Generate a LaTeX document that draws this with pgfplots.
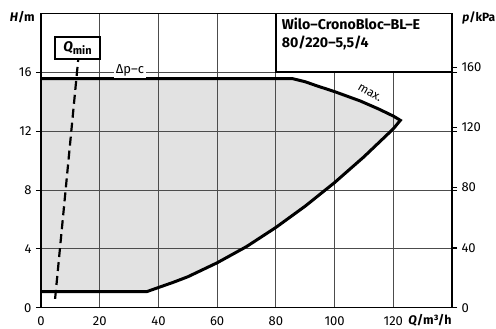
\documentclass[border=0pt]{standalone}
\usepackage{fontspec}
\setmainfont{Fira Sans}
\usepackage{pgfplots}
\pgfplotsset{compat=1.18}
\definecolor{fillgray}{HTML}{E2E2E2}
\pgfplotsset{
  base/.style={
    scale only axis, width=411pt, height=294.4pt,
    xmin=0, xmax=140, ymin=0, ymax=20,
    xtick={0,20,...,120}, ytick={0,4,...,16},
    /pgf/number format/assume math mode=true,
  }
}
\tikzset{gridline/.style={black!70, line width=0.8pt}}
\begin{document}
\begin{tikzpicture}[x=1pt,y=1pt]
% layer 1: shaded operating range and grid
\begin{axis}[base, hide axis]
\addplot[fill=fillgray, draw=none] coordinates {
  (0,15.57) (85.5,15.57) (90,15.35) (94,15.07) (100,14.68) (108.8,14.04)
  (115,13.5) (120,13.02) (122.4,12.73)
  (120,12.15) (110,10.25) (100,8.5) (90,6.9) (80,5.45) (70,4.15) (60,3.05)
  (50,2.1) (45,1.72) (36,1.09) (0,1.09) (0,15.57)
};
\draw[gridline] (axis cs:20,0) -- (axis cs:20,20);
\draw[gridline] (axis cs:40,0) -- (axis cs:40,20);
\draw[gridline] (axis cs:60,0) -- (axis cs:60,20);
\draw[gridline] (axis cs:80,0) -- (axis cs:80,20);
\draw[gridline] (axis cs:100,0) -- (axis cs:100,20);
\draw[gridline] (axis cs:120,0) -- (axis cs:120,20);
\draw[gridline] (axis cs:0,4) -- (axis cs:140,4);
\draw[gridline] (axis cs:0,8) -- (axis cs:140,8);
\draw[gridline] (axis cs:0,12) -- (axis cs:140,12);
\draw[gridline] (axis cs:0,16) -- (axis cs:140,16);
\end{axis}
% layer 2: curves, frame, ticks, labels
\begin{axis}[base,
  axis line style={line width=1.5pt},
  tick align=outside,
  major tick length=5pt,
  xtick style={draw=none},
  ytick style={black, line width=0.8pt},
  ticklabel style={font=\fontsize{13}{15}\selectfont},
  yticklabel style={xshift=-1pt},
  clip=false,
]
% characteristic curve
\addplot[black, line width=3pt, line join=miter] coordinates {
  (0,15.57) (85.5,15.57) (90,15.35) (94,15.07) (100,14.68) (108.8,14.04)
  (115,13.5) (120,13.02) (122.4,12.73)
  (120,12.15) (110,10.25) (100,8.5) (90,6.9) (80,5.45) (70,4.15) (60,3.05)
  (50,2.1) (45,1.72) (36,1.09) (0,1.09)
};
% Qmin line
\addplot[black, line width=2.2pt, dash pattern=on 9pt off 5pt] coordinates {
  (4.8,0.6) (12.7,16.9)
};
% title box
\draw[line width=1.5pt, fill=white] (axis cs:80,16) rectangle (axis cs:140,20);
\node[anchor=base west, inner sep=0, font=\bfseries\fontsize{14.2}{17}\selectfont]
  at (axis cs:82,18.93) {Wilo–CronoBloc–BL–E};
\node[anchor=base west, inner sep=0, font=\bfseries\fontsize{14.2}{17}\selectfont]
  at (axis cs:82,17.7) {80/220–5,5/4};
% Qmin box
\node[draw, line width=1.5pt, fill=white, minimum width=45pt, minimum height=22pt, inner sep=0]
  at (axis cs:12.45,17.64) {\bfseries\fontsize{14}{16}\selectfont\itshape Q\raisebox{-3pt}{\upshape\fontsize{11}{11}\selectfont min}};
% delta p-c label
\node[fill=white, inner sep=2pt, font=\fontsize{13}{15}\selectfont] at (axis cs:30.3,16.13) {Δp–c};
% max label
\node[rotate=-30, inner sep=0, font=\fontsize{12}{14}\selectfont] at (axis cs:112,14.6) {max.};
\end{axis}
% right axis (kPa)
\begin{axis}[
  scale only axis, width=411pt, height=294.4pt,
  xmin=0, xmax=140, ymin=0, ymax=196.2,
  hide x axis,
  axis y line*=right,
  ytick={0,40,...,160},
  axis line style={line width=1.5pt},
  tick align=outside,
  major tick length=5pt,
  ytick style={black, line width=0.8pt},
  ticklabel style={font=\fontsize{13}{15}\selectfont},
  yticklabel style={xshift=1pt},
  /pgf/number format/assume math mode=true,
]
\addplot[draw=none] coordinates {(0,0)};
\end{axis}
\node[anchor=base east, inner sep=0, font=\bfseries\fontsize{12.5}{15}\selectfont] at (-6,285.7) {\itshape H\upshape/m};
\node[anchor=base east, inner sep=0, font=\bfseries\fontsize{12}{15}\selectfont] at (454.5,286) {\itshape p\upshape/kPa};
\node[anchor=base east, inner sep=0, font=\bfseries\fontsize{12.5}{15}\selectfont] at (410.7,-17.3) {\itshape Q\upshape/m³/h};
\pgfresetboundingbox
\path[use as bounding box] (-41,-21.3) rectangle (455,307.7);
\end{tikzpicture}
\end{document}
